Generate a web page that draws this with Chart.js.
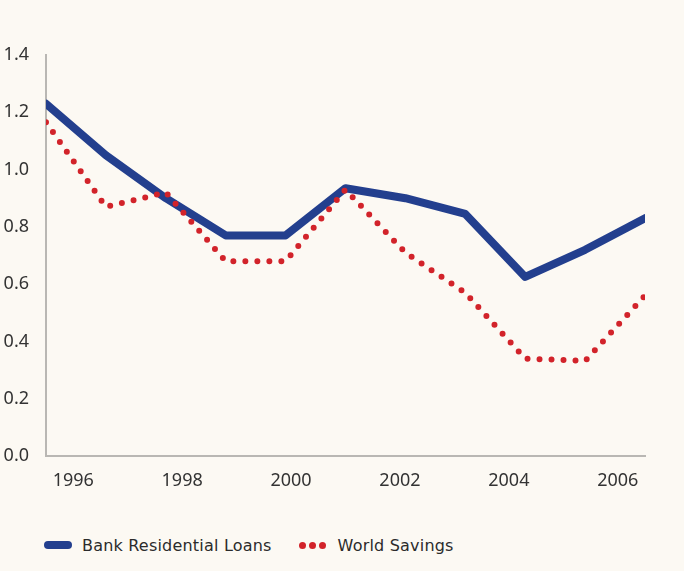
<!DOCTYPE html>
<html>
<head>
<meta charset="utf-8">
<script src="https://cdn.jsdelivr.net/npm/chart.js@4/dist/chart.umd.min.js"></script>
<style>
  html, body { margin: 0; padding: 0; background: #fcf9f3; }
  #wrap { position: relative; width: 684px; height: 571px; background: #fcf9f3; }
  #box { position: absolute; left: 0; top: 0; width: 684px; height: 500px; }
  #legend { position: absolute; left: 44px; top: 534px; height: 22px; display: flex; align-items: center;
            font-family: "DejaVu Sans", sans-serif; font-size: 16px; letter-spacing: 0.2px; color: #2b2b2b; white-space: nowrap; }
  .blue { width: 28px; height: 8px; border-radius: 4px; background: #233f8e; margin-right: 10px; }
  .dots { display: flex; margin-left: 27px; margin-right: 9px; }
  .dots span { width: 7px; height: 7px; border-radius: 50%; background: #d2232a; margin-right: 3px; }
</style>
</head>
<body>
<div id="wrap">
  <div id="box"><canvas id="c"></canvas></div>
  <div id="legend">
    <div class="blue"></div><span>Bank Residential Loans</span>
    <div class="dots"><span></span><span></span><span></span></div><span>World Savings</span>
  </div>
</div>
<script>
// Observation dates (fractional years) and the two series
const dates = [1995.5, 1996.6, 1997.7, 1998.8, 1999.9, 2001.0, 2002.1, 2003.2, 2004.3, 2005.4, 2006.5];
const bankLoans = [1.23, 1.05, 0.90, 0.77, 0.77, 0.935, 0.90, 0.845, 0.625, 0.72, 0.83];
const worldSavings = [1.165, 0.87, 0.92, 0.68, 0.68, 0.93, 0.71, 0.57, 0.34, 0.332, 0.56];
const yearTicks = [1996, 1998, 2000, 2002, 2004, 2006];
const valueTicks = [0, 0.2, 0.4, 0.6, 0.8, 1.0, 1.2, 1.4];

const pts = (ys) => ys.map((y, i) => ({ x: dates[i], y }));
const tickFont = { family: "'Noto Sans', sans-serif", size: 18 };

new Chart(document.getElementById('c'), {
  type: 'line',
  data: {
    datasets: [
      {
        label: 'World Savings',
        data: pts(worldSavings),
        borderColor: '#d2232a',
        borderWidth: 6,
        borderDash: [0, 12],
        borderCapStyle: 'round',
        pointRadius: 0,
        tension: 0,
        order: 0
      },
      {
        label: 'Bank Residential Loans',
        data: pts(bankLoans),
        borderColor: '#233f8e',
        borderWidth: 8,
        borderCapStyle: 'round',
        borderJoinStyle: 'round',
        pointRadius: 0,
        tension: 0,
        order: 1
      }
    ]
  },
  options: {
    responsive: true,
    maintainAspectRatio: false,
    animation: false,
    layout: { padding: { top: 55, right: 39, left: 0, bottom: 0 } },
    plugins: { legend: { display: false }, tooltip: { enabled: false } },
    scales: {
      x: {
        type: 'linear',
        min: 1995.5,
        max: 2006.5,
        grid: { display: false },
        border: { display: true, color: '#b9b7b3', width: 2 },
        afterBuildTicks: (s) => { s.ticks = yearTicks.map(v => ({ value: v })); },
        afterFit: (s) => { s.height = 44; },
        ticks: {
          color: '#333',
          font: tickFont,
          padding: 6,
          maxRotation: 0,
          callback: (v) => String(v)
        }
      },
      y: {
        min: 0,
        max: 1.4,
        grid: { display: false },
        border: { display: true, color: '#b9b7b3', width: 2 },
        afterBuildTicks: (s) => { s.ticks = valueTicks.map(v => ({ value: v })); },
        afterFit: (s) => { s.width = 46; },
        ticks: {
          color: '#333',
          font: tickFont,
          padding: 9,
          callback: (v) => Number(v).toFixed(1)
        }
      }
    }
  }
});
</script>
</body>
</html>
